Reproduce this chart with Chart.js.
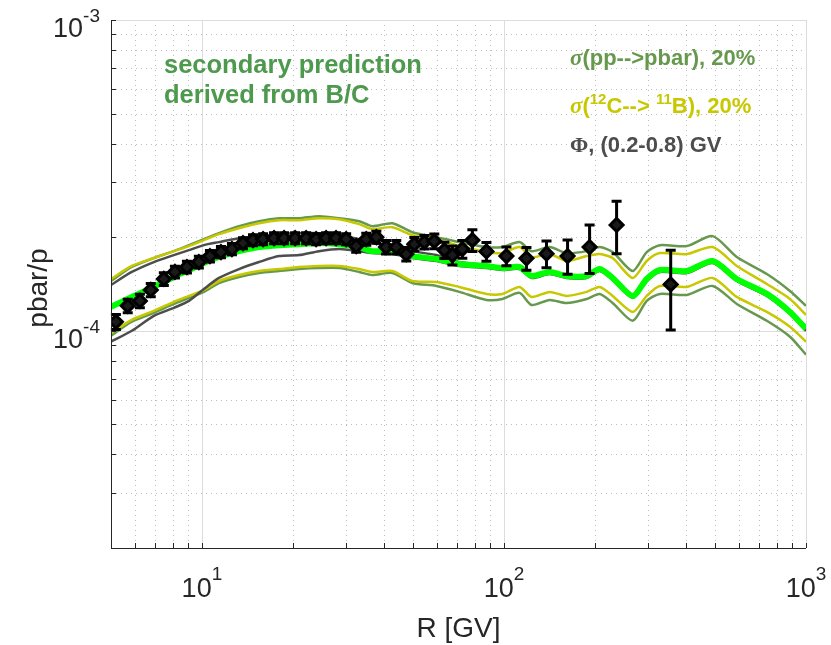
<!DOCTYPE html>
<html lang="en">
	<head>
		<meta charset="UTF-8" />
		<title>pbar/p</title>
		<script src="https://cdn.jsdelivr.net/npm/chart.js@4.4.0/dist/chart.umd.min.js"></script>
		<style>
			html,
			body {
				margin: 0;
				padding: 0;
				background: #fff;
			}
		</style>
	</head>
	<body>
		<canvas id="ratioChart" width="831" height="645"></canvas>

		<script>
			// rigidity grid of the model curves [GV]
			const modelR = [
				5.0, 5.86, 6.93, 8.07, 9.06, 10.15, 11.39, 13.27, 15.45, 18.0, 20.98, 24.4, 28.5, 33.2, 36.6, 42.7, 49.7,
				59.7, 71.2, 87.5, 98.9, 112.6, 123.4, 141.6, 161.2, 187.8, 207.4, 229.0, 266.8, 297, 328, 403, 491, 590,
				742, 885, 1000,
			];
			// secondary prediction derived from B/C
			const central = [
				1.194e-4, 1.285e-4, 1.384e-4, 1.49e-4, 1.569e-4, 1.652e-4, 1.727e-4, 1.804e-4, 1.859e-4, 1.886e-4, 1.9e-4,
				1.915e-4, 1.9e-4, 1.859e-4, 1.804e-4, 1.804e-4, 1.739e-4, 1.702e-4, 1.64e-4, 1.616e-4, 1.592e-4, 1.604e-4,
				1.501e-4, 1.546e-4, 1.501e-4, 1.501e-4, 1.58e-4, 1.479e-4, 1.295e-4, 1.468e-4, 1.569e-4, 1.557e-4,
				1.677e-4, 1.468e-4, 1.314e-4, 1.15e-4, 1.015e-4,
			];
			// sigma(pp-->pbar) 20%
			const ppUpper = [
				1.446e-4, 1.604e-4, 1.714e-4, 1.804e-4, 1.886e-4, 1.972e-4, 2.061e-4, 2.171e-4, 2.252e-4, 2.302e-4,
				2.302e-4, 2.337e-4, 2.302e-4, 2.252e-4, 2.171e-4, 2.219e-4, 2.076e-4, 2.001e-4, 1.929e-4, 1.859e-4,
				1.859e-4, 1.929e-4, 1.804e-4, 1.859e-4, 1.778e-4, 1.804e-4, 1.859e-4, 1.792e-4, 1.557e-4, 1.792e-4,
				1.886e-4, 1.873e-4, 2.016e-4, 1.727e-4, 1.523e-4, 1.343e-4, 1.203e-4,
			];
			const ppLower = [
				0.964e-4, 1.069e-4, 1.142e-4, 1.22e-4, 1.276e-4, 1.334e-4, 1.425e-4, 1.49e-4, 1.534e-4, 1.557e-4, 1.58e-4,
				1.592e-4, 1.592e-4, 1.546e-4, 1.512e-4, 1.534e-4, 1.425e-4, 1.394e-4, 1.334e-4, 1.257e-4, 1.266e-4,
				1.324e-4, 1.211e-4, 1.257e-4, 1.229e-4, 1.266e-4, 1.314e-4, 1.229e-4, 1.077e-4, 1.248e-4, 1.314e-4,
				1.304e-4, 1.394e-4, 1.22e-4, 1.077e-4, 0.957e-4, 0.838e-4,
			];
			// sigma(12C-->11B) 20%
			const cbUpper = [
				1.468e-4, 1.616e-4, 1.714e-4, 1.804e-4, 1.873e-4, 1.957e-4, 2.046e-4, 2.138e-4, 2.219e-4, 2.269e-4,
				2.269e-4, 2.302e-4, 2.286e-4, 2.203e-4, 2.123e-4, 2.154e-4, 2.031e-4, 1.972e-4, 1.873e-4, 1.792e-4,
				1.778e-4, 1.859e-4, 1.727e-4, 1.765e-4, 1.677e-4, 1.739e-4, 1.765e-4, 1.714e-4, 1.479e-4, 1.677e-4,
				1.778e-4, 1.765e-4, 1.859e-4, 1.616e-4, 1.414e-4, 1.266e-4, 1.125e-4,
			];
			const cbLower = [
				0.985e-4, 1.085e-4, 1.159e-4, 1.239e-4, 1.295e-4, 1.353e-4, 1.446e-4, 1.512e-4, 1.557e-4, 1.58e-4,
				1.604e-4, 1.616e-4, 1.616e-4, 1.58e-4, 1.546e-4, 1.557e-4, 1.446e-4, 1.436e-4, 1.384e-4, 1.314e-4,
				1.314e-4, 1.384e-4, 1.285e-4, 1.334e-4, 1.295e-4, 1.334e-4, 1.384e-4, 1.295e-4, 1.15e-4, 1.295e-4,
				1.394e-4, 1.384e-4, 1.479e-4, 1.285e-4, 1.15e-4, 1.03e-4, 0.922e-4,
			];
			// Phi (0.2-0.8) GV
			const phiUpper = [
				1.404e-4, 1.546e-4, 1.664e-4, 1.752e-4, 1.818e-4, 1.886e-4, 1.929e-4, 1.986e-4, 2.016e-4, 2.046e-4,
				2.061e-4, 2.061e-4, 2.031e-4, 1.972e-4, 1.915e-4, 1.873e-4, 1.804e-4, 1.752e-4, 1.664e-4, 1.628e-4,
				1.604e-4, 1.616e-4, 1.512e-4, 1.557e-4, 1.512e-4, 1.512e-4, 1.592e-4, 1.49e-4, 1.304e-4, 1.479e-4,
				1.58e-4, 1.569e-4, 1.69e-4, 1.479e-4, 1.324e-4, 1.159e-4, 1.022e-4,
			];
			const phiLower = [
				0.922e-4, 1.0e-4, 1.117e-4, 1.185e-4, 1.248e-4, 1.363e-4, 1.479e-4, 1.58e-4, 1.664e-4, 1.739e-4, 1.752e-4,
				1.804e-4, 1.832e-4, 1.804e-4, 1.778e-4, 1.765e-4, 1.714e-4, 1.677e-4, 1.616e-4, 1.592e-4, 1.569e-4,
				1.58e-4, 1.479e-4, 1.523e-4, 1.479e-4, 1.479e-4, 1.557e-4, 1.457e-4, 1.276e-4, 1.446e-4, 1.546e-4,
				1.534e-4, 1.652e-4, 1.446e-4, 1.295e-4, 1.133e-4, 1.0e-4,
			];

			// measured pbar/p
			const dataR = [
				5.19, 5.68, 6.23, 6.77, 7.48, 8.14, 8.92, 9.77, 10.63, 11.56, 12.57, 13.68, 14.76, 15.94, 17.33, 18.71,
				20.35, 22.13, 23.88, 25.77, 27.8, 30.03, 32.42, 35.0, 37.8, 40.7, 44.0, 47.5, 50.5, 54.5, 58.8, 63.5, 67.5,
				72.8, 78.6, 87.5, 101.9, 118.7, 138.3, 162.4, 192.1, 236, 356.5,
			];
			const dataRatio = [
				1.069e-4, 1.203e-4, 1.248e-4, 1.353e-4, 1.468e-4, 1.546e-4, 1.604e-4, 1.664e-4, 1.739e-4, 1.792e-4,
				1.832e-4, 1.915e-4, 1.957e-4, 1.972e-4, 1.986e-4, 1.986e-4, 1.986e-4, 1.986e-4, 1.972e-4, 1.986e-4,
				1.986e-4, 1.972e-4, 1.873e-4, 1.972e-4, 2.001e-4, 1.859e-4, 1.859e-4, 1.765e-4, 1.9e-4, 1.929e-4,
				1.943e-4, 1.818e-4, 1.752e-4, 1.832e-4, 1.957e-4, 1.8e-4, 1.74e-4, 1.71e-4, 1.77e-4, 1.74e-4, 1.86e-4,
				2.19e-4, 1.41e-4,
			];
			const dataErr = [
				0.06e-4, 0.06e-4, 0.062e-4, 0.066e-4, 0.07e-4, 0.068e-4, 0.07e-4, 0.072e-4, 0.074e-4, 0.075e-4,
				0.076e-4, 0.079e-4, 0.08e-4, 0.08e-4, 0.08e-4, 0.08e-4, 0.08e-4, 0.08e-4, 0.08e-4, 0.08e-4, 0.08e-4,
				0.08e-4, 0.084e-4, 0.089e-4, 0.09e-4, 0.093e-4, 0.093e-4, 0.088e-4, 0.095e-4, 0.096e-4, 0.107e-4,
				0.109e-4, 0.123e-4, 0.119e-4, 0.157e-4, 0.125e-4, 0.12e-4, 0.145e-4, 0.175e-4, 0.22e-4, 0.33e-4, 0.42e-4,
				0.405e-4,
			];

			// axis ticks (grid positions) and decade labels
			const xTickVals = [
				5, 6, 7, 8, 9, 10, 20, 30, 40, 50, 60, 70, 80, 90, 100, 200, 300, 400, 500, 600, 700, 800, 900, 1000,
			];
			const yTickVals = [
				2e-5, 3e-5, 4e-5, 5e-5, 6e-5, 7e-5, 8e-5, 9e-5, 1e-4, 2e-4, 3e-4, 4e-4, 5e-4, 6e-4, 7e-4, 8e-4, 9e-4, 1e-3,
			];
			const xDecades = [1, 2, 3];
			const yDecades = [-4, -3];

			const OLIVE = "#66994d";
			const YELLOW = "#c8c800";
			const GREY = "#4d4d4d";
			const LIME = "#00ff00";
			const SANS = '"Liberation Sans", Arial, sans-serif';

			const pts = (ys) => modelR.map((r, i) => ({ x: r, y: ys[i] }));
			const isDecade = (v) => Math.abs(Math.log10(v) - Math.round(Math.log10(v))) < 1e-9;

			function curve(label, ys, color, width, order) {
				return {
					label: label,
					data: pts(ys),
					borderColor: color,
					borderWidth: width,
					pointRadius: 0,
					tension: 0.25,
					fill: false,
					order: order,
				};
			}

			// draws text pieces one after another: [text, font, dy, color]
			function runs(ctx, x, y, parts) {
				parts.forEach((p) => {
					ctx.font = p[1];
					ctx.fillStyle = p[3];
					ctx.fillText(p[0], x, y + p[2]);
					x += ctx.measureText(p[0]).width;
				});
			}

			const frame = {
				id: "frame",
				beforeDatasetsDraw(chart) {
					const { ctx, chartArea: a } = chart;
					const sx = chart.scales.x;
					const sy = chart.scales.y;
					ctx.save();
					ctx.lineWidth = 1;
					const grid = (major) => {
						ctx.strokeStyle = major ? "#dcdcdc" : "#bdbdbd";
						ctx.setLineDash(major ? [] : [1, 4]);
					};
					xTickVals.forEach((v) => {
						const p = Math.round(sx.getPixelForValue(v)) + 0.5;
						grid(isDecade(v));
						ctx.beginPath();
						ctx.moveTo(p, a.top);
						ctx.lineTo(p, a.bottom);
						ctx.stroke();
					});
					yTickVals.forEach((v) => {
						const p = Math.round(sy.getPixelForValue(v)) + 0.5;
						grid(isDecade(v));
						ctx.beginPath();
						ctx.moveTo(a.left, p);
						ctx.lineTo(a.right, p);
						ctx.stroke();
					});
					ctx.restore();
				},
				beforeDatasetDraw(chart, args) {
					// error bars go on top of the curves, under the diamonds
					if (args.meta.label !== "data") return;
					const { ctx } = chart;
					const sx = chart.scales.x;
					const sy = chart.scales.y;
					ctx.save();
					ctx.strokeStyle = "#000";
					ctx.lineWidth = 3;
					dataR.forEach((r, i) => {
						const px = sx.getPixelForValue(r);
						const top = sy.getPixelForValue(dataRatio[i] + dataErr[i]);
						const bot = sy.getPixelForValue(dataRatio[i] - dataErr[i]);
						ctx.beginPath();
						ctx.moveTo(px, top);
						ctx.lineTo(px, bot);
						ctx.moveTo(px - 5, top);
						ctx.lineTo(px + 5, top);
						ctx.moveTo(px - 5, bot);
						ctx.lineTo(px + 5, bot);
						ctx.stroke();
					});
					ctx.restore();
				},
				afterDraw(chart) {
					const { ctx, chartArea: a } = chart;
					const sx = chart.scales.x;
					const sy = chart.scales.y;
					ctx.save();

					// axis lines and inward ticks
					ctx.strokeStyle = "#262626";
					ctx.lineWidth = 1;
					ctx.beginPath();
					ctx.moveTo(a.left + 0.5, a.top);
					ctx.lineTo(a.left + 0.5, a.bottom + 0.5);
					ctx.lineTo(a.right, a.bottom + 0.5);
					xTickVals.forEach((v) => {
						const p = Math.round(sx.getPixelForValue(v)) + 0.5;
						ctx.moveTo(p, a.bottom);
						ctx.lineTo(p, a.bottom - 5);
					});
					yTickVals.forEach((v) => {
						const p = Math.round(sy.getPixelForValue(v)) + 0.5;
						ctx.moveTo(a.left, p);
						ctx.lineTo(a.left + 5, p);
					});
					ctx.stroke();

					// decade labels 10^n
					ctx.fillStyle = "#262626";
					ctx.textBaseline = "alphabetic";
					const big = "27px " + SANS;
					const small = "19px " + SANS;
					xDecades.forEach((e) => {
						const p = sx.getPixelForValue(Math.pow(10, e));
						ctx.font = big;
						const w1 = ctx.measureText("10").width;
						ctx.font = small;
						const w2 = ctx.measureText(String(e)).width;
						runs(ctx, p - (w1 + w2) / 2, 597, [
							["10", big, 0, "#262626"],
							[String(e), small, -17, "#262626"],
						]);
					});
					yDecades.forEach((e) => {
						const p = sy.getPixelForValue(Math.pow(10, e));
						ctx.font = big;
						const w1 = ctx.measureText("10").width;
						ctx.font = small;
						const w2 = ctx.measureText(String(e)).width;
						runs(ctx, a.left - 11 - w1 - w2, p + 17, [
							["10", big, 0, "#262626"],
							[String(e), small, -15, "#262626"],
						]);
					});

					// axis titles
					ctx.font = "28px " + SANS;
					ctx.textAlign = "center";
					ctx.fillText("R [GV]", (a.left + a.right) / 2, 637);
					ctx.save();
					ctx.translate(47, (a.top + a.bottom) / 2 + 4);
					ctx.rotate(-Math.PI / 2);
					ctx.fillText("pbar/p", 0, 0);
					ctx.restore();
					ctx.textAlign = "left";

					// annotations
					const bold = "bold 25.5px " + SANS;
					ctx.font = bold;
					ctx.fillStyle = "#4d994d";
					ctx.fillText("secondary prediction", 164, 73);
					ctx.fillText("derived from B/C", 164, 103);

					const lb = "bold 22px " + SANS;
					const sup = "bold 15px " + SANS;
					const sig = "italic bold 23px 'Liberation Serif', serif";
					runs(ctx, 570, 65, [
						["\u03c3", sig, 0, OLIVE],
						["(pp-->pbar), 20%", lb, 0, OLIVE],
					]);
					runs(ctx, 570, 113, [
						["\u03c3", sig, 0, YELLOW],
						["(", lb, 0, YELLOW],
						["12", sup, -9, YELLOW],
						["C--> ", lb, 0, YELLOW],
						["11", sup, -9, YELLOW],
						["B), 20%", lb, 0, YELLOW],
					]);
					runs(ctx, 570, 152, [
						["\u03a6", "bold 22px 'Liberation Serif', serif", 0, GREY],
						[", (0.2-0.8) GV", lb, 0, GREY],
					]);
					ctx.restore();
				},
			};

			const ctx = document.getElementById("ratioChart").getContext("2d");
			const ratioChart = new Chart(ctx, {
				type: "line",
				data: {
					datasets: [
						{
							label: "data",
							data: dataR.map((r, i) => ({ x: r, y: dataRatio[i] })),
							showLine: false,
							pointStyle: "rectRot",
							pointRadius: 6.5,
							pointBorderWidth: 3,
							pointBorderColor: "#000",
							pointBackgroundColor: "#1a1a1a",
							order: 0,
						},
						curve("central", central, LIME, 6, 1),
						curve("phi up", phiUpper, GREY, 2.5, 2),
						curve("phi low", phiLower, GREY, 2.5, 2),
						curve("C->B up", cbUpper, YELLOW, 2.5, 3),
						curve("C->B low", cbLower, YELLOW, 2.5, 3),
						curve("pp up", ppUpper, OLIVE, 2.5, 4),
						curve("pp low", ppLower, OLIVE, 2.5, 4),
					],
				},
				options: {
					responsive: false,
					animation: false,
					devicePixelRatio: 1,
					layout: { padding: { left: 111, right: 25, top: 20, bottom: 97 } },
					plugins: {
						legend: { display: false },
						tooltip: { enabled: false },
					},
					scales: {
						x: { type: "logarithmic", min: 5, max: 1000, display: false },
						y: { type: "logarithmic", min: 2e-5, max: 1e-3, display: false },
					},
				},
				plugins: [frame],
			});
		</script>
	</body>
</html>
